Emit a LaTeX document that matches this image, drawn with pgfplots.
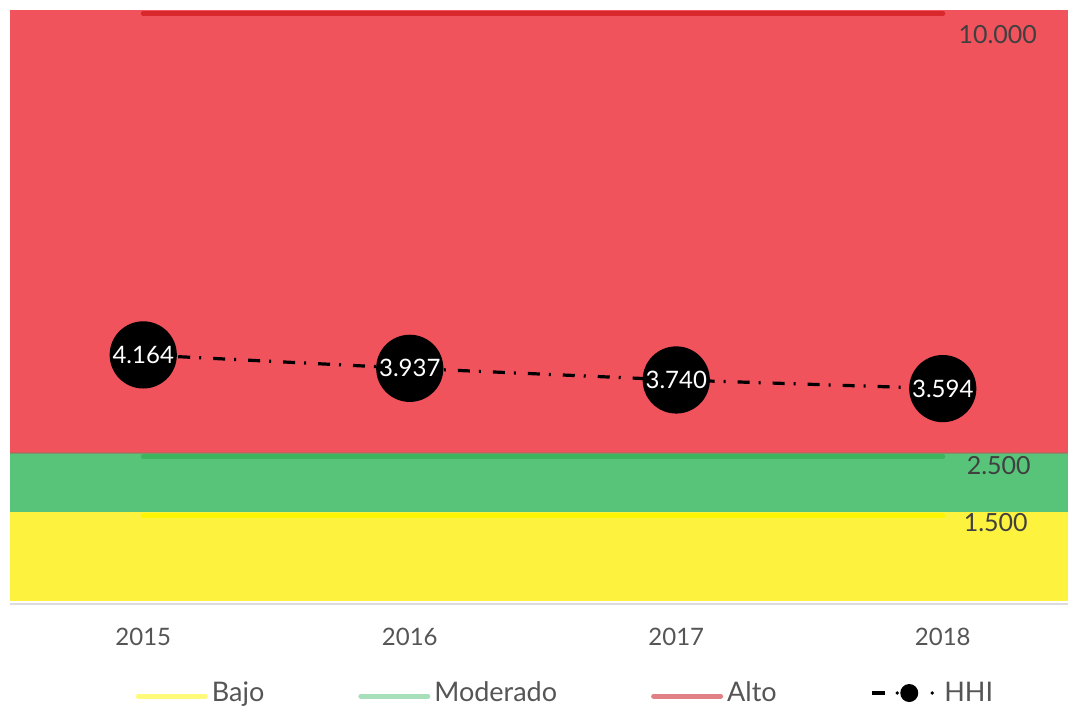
\documentclass[border=0pt]{standalone}
\usepackage{fontspec}
\setmainfont{Lato}
\usepackage{pgfplots}
\pgfplotsset{compat=1.18}

\definecolor{redfill}{HTML}{F0535C}
\definecolor{greenfill}{HTML}{58C47A}
\definecolor{yellowfill}{HTML}{FDF23D}
\definecolor{redline}{HTML}{D8282C}
\definecolor{greenline}{HTML}{3DB55C}
\definecolor{yellowline}{HTML}{FFF500}
\definecolor{legbajo}{HTML}{FFFA7A}
\definecolor{legmod}{HTML}{A6DFB9}
\definecolor{legalto}{HTML}{E08084}
\definecolor{tickgray}{HTML}{555555}
\definecolor{labgray}{HTML}{404040}
\definecolor{seam}{HTML}{A06E5F}

\begin{document}
\begin{tikzpicture}[x=1pt,y=1pt]
\path[use as bounding box] (0,0) rectangle (534,353);
\begin{axis}[
  at={(5pt,52.5pt)}, anchor=south west,
  scale only axis, width=529pt, height=295.5pt,
  xmin=-0.5, xmax=3.47, ymin=0, ymax=10000,
  axis line style={draw=none},
  major tick length=0pt,
  ytick=\empty,
  xtick={0,1,2,3},
  xticklabels={2015,2016,2017,2018},
  xticklabel style={font=\fontsize{12}{12}\selectfont, text=tickgray,
    inner sep=0pt, yshift=-13.5pt},
  legend columns=4,
  legend style={at={(0.1186,-0.1557)}, anchor=west, draw=none, fill=none,
    inner sep=0pt, font=\fontsize{13.5}{13.5}\selectfont, text=tickgray,
    nodes={inner xsep=2pt, inner ysep=0pt},
    /tikz/every even column/.append style={column sep=45pt}},
]
% bandas de fondo
\addplot[fill=redfill, draw=none, forget plot] coordinates {(-1,10000) (4,10000)} \closedcycle;
\addplot[fill=greenfill, draw=none, forget plot] coordinates {(-1,2500) (4,2500)} \closedcycle;
\addplot[fill=yellowfill, draw=none, forget plot] coordinates {(-1,1500) (4,1500)} \closedcycle;
\addplot[seam, opacity=0.6, line width=1pt, forget plot] coordinates {(-1,2500) (4,2500)};

% umbrales
\addplot[yellowline, line width=2.5pt, line cap=round, yshift=-1.6pt,
  legend image code/.code={\draw[legbajo, solid, line width=2.5pt, line cap=round] (0pt,0pt) -- (33.5pt,0pt);}]
  coordinates {(0,1500) (1,1500) (2,1500) (3,1500)};
\addlegendentry{Bajo}
\addplot[greenline, line width=2.5pt, line cap=round, yshift=-1.6pt,
  legend image code/.code={\draw[legmod, solid, line width=2.5pt, line cap=round] (0pt,0pt) -- (33.5pt,0pt);}]
  coordinates {(0,2500) (1,2500) (2,2500) (3,2500)};
\addlegendentry{Moderado}
\addplot[redline, line width=2.5pt, line cap=round, yshift=-1.6pt,
  legend image code/.code={\draw[legalto, solid, line width=2.5pt, line cap=round] (0pt,0pt) -- (33.5pt,0pt);}]
  coordinates {(0,10000) (1,10000) (2,10000) (3,10000)};
\addlegendentry{Alto}

% HHI
\addplot[black, line width=1.6pt, dash pattern=on 6pt off 4.5pt on 1pt off 6pt,
  mark=*, mark size=16pt, mark options={solid, fill=black},
  point meta=explicit symbolic, nodes near coords,
  every node near coord/.append style={anchor=center, text=white,
    font=\fontsize{12}{12}\selectfont},
  legend image code/.code={
    \draw[black, solid, line width=1.6pt] (0pt,0pt) -- (6.5pt,0pt);
    \fill[black, draw=none] (12.5pt,0pt) circle (0.9pt);
    \fill[black, draw=none] (18.5pt,0pt) circle (4.5pt);
    \fill[black, draw=none] (30pt,0pt) circle (0.9pt);
    \path[draw=none] (0pt,0pt) -- (34pt,0pt);}]
  coordinates {(0,4164) [4.164] (1,3937) [3.937] (2,3740) [3.740] (3,3594) [3.594]};
\addlegendentry{HHI}

\node[font=\fontsize{12.5}{12.5}\selectfont, text=labgray] at ([xshift=27.5pt,yshift=-12.5pt]axis cs:3,10000) {10.000};
\node[font=\fontsize{12.5}{12.5}\selectfont, text=labgray] at ([xshift=28pt,yshift=-6pt]axis cs:3,2500) {2.500};
\node[font=\fontsize{12.5}{12.5}\selectfont, text=labgray] at ([xshift=26.5pt,yshift=-5pt]axis cs:3,1500) {1.500};
\end{axis}
\draw[black!14, line width=1pt] (5,51.2) -- (534,51.2);
\end{tikzpicture}
\end{document}
